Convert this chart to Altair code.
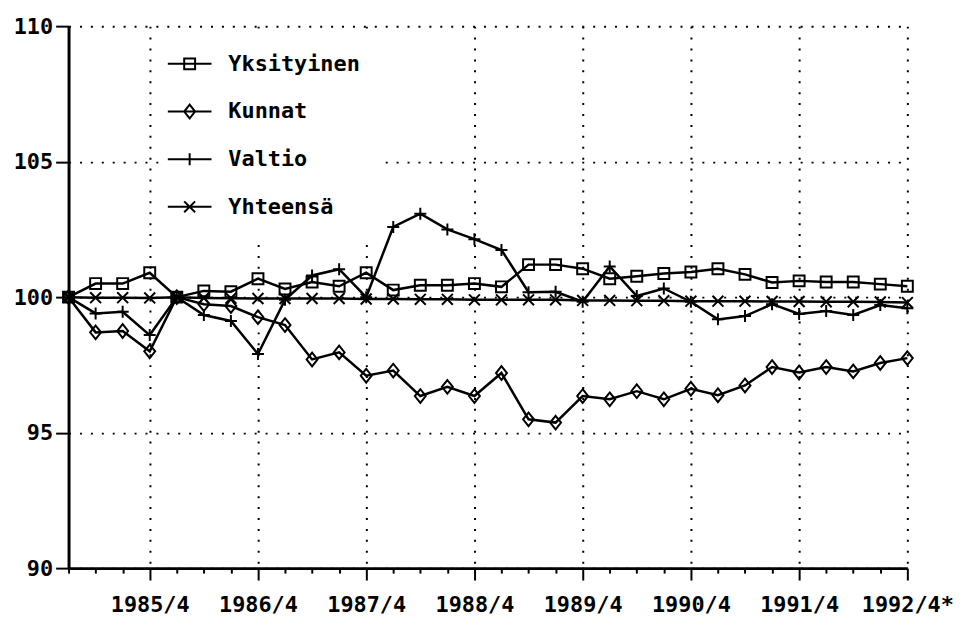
import altair as alt
import pandas as pd

# Quarterly index 1985/1 .. 1992/4 (32 quarters)
quarters = [f"{y}/{q}" for y in range(1985, 1993) for q in range(1, 5)]

series_names = ["Yksityinen", "Kunnat", "Valtio", "Yhteensä"]

yksityinen = [100, 100.5, 100.5, 100.9, 100, 100.23, 100.2, 100.68, 100.3, 100.56,
              100.4, 100.9, 100.26, 100.44, 100.44, 100.5, 100.38, 101.2, 101.2, 101.05,
              100.68, 100.77, 100.87, 100.93, 101.05, 100.84, 100.54, 100.6, 100.56, 100.56,
              100.48, 100.4]
kunnat = [100, 98.7, 98.75, 98.0, 100, 99.74, 99.67, 99.26, 98.97, 97.7,
          97.96, 97.1, 97.29, 96.35, 96.69, 96.35, 97.2, 95.49, 95.37, 96.35,
          96.23, 96.53, 96.23, 96.62, 96.38, 96.74, 97.42, 97.22, 97.42, 97.26,
          97.57, 97.75]
valtio = [100, 99.4, 99.46, 98.6, 100, 99.34, 99.12, 97.9, 99.9, 100.8,
          101.03, 100.0, 102.59, 103.08, 102.5, 102.14, 101.74, 100.18, 100.2, 99.83,
          101.13, 100.04, 100.32, 99.83, 99.18, 99.3, 99.74, 99.38, 99.49, 99.34,
          99.71, 99.59]
yhteensa = [100, 99.98, 99.98, 99.97, 100, 99.97, 99.96, 99.95, 99.95, 99.95,
            99.95, 99.93, 99.93, 99.92, 99.92, 99.9, 99.9, 99.9, 99.9, 99.88,
            99.88, 99.87, 99.87, 99.85, 99.85, 99.85, 99.84, 99.84, 99.83, 99.83,
            99.82, 99.8]

# tick labels at the fourth quarter of each year
tick_index = [3, 7, 11, 15, 19, 23, 27, 31]
tick_labels = ["1985/4", "1986/4", "1987/4", "1988/4", "1989/4", "1990/4", "1991/4", "1992/4*"]
y_ticks = [90, 95, 100, 105, 110]

rows = []
for name, vals in zip(series_names, [yksityinen, kunnat, valtio, yhteensa]):
    for i, v in enumerate(vals):
        rows.append({"series": name, "i": i, "quarter": quarters[i], "value": v})
df = pd.DataFrame(rows)

# marker shapes (custom paths)
markers = ["M-1,-1H1V1H-1Z",
           "M0,-1.25L1,0L0,1.25L-1,0Z",
           "M-1.1,0H1.1M0,-1.1V1.1",
           "M-1,-1L1,1M-1,1L1,-1"]
legend_paths = ["M-4,0H4" + m for m in markers]

label_expr = ""
for idx, lab in zip(tick_index, tick_labels):
    label_expr += f"datum.value == {idx} ? '{lab}' : "
label_expr += "''"

FONT = "DejaVu Sans Mono"
FS = 22
major_test = "datum.value % 4 == 3"

x_enc = alt.X(
    "i:Q",
    scale=alt.Scale(domain=[0, 31], nice=False, zero=False),
    axis=alt.Axis(
        values=list(range(32)),
        labelExpr=label_expr,
        labelOverlap=False,
        labelFlush=False,
        labelBound=False,
        labelFont=FONT,
        labelFontSize=FS,
        labelFontWeight="bold",
        labelColor="black",
        title=None,
        tickSize={"condition": {"test": major_test, "value": 12}, "value": 5},
        tickWidth=2,
        tickColor="black",
        domainColor="black",
        domainWidth=3,
        labelPadding=15,
        grid=True,
        gridColor="black",
        gridDash=[2, 9],
        gridWidth=2,
        gridOpacity={"condition": {"test": major_test, "value": 1}, "value": 0},
    ),
)
y_enc = alt.Y(
    "value:Q",
    scale=alt.Scale(domain=[90, 110], nice=False, zero=False),
    axis=alt.Axis(
        values=y_ticks,
        title=None,
        labelFont=FONT,
        labelFontSize=FS,
        labelFontWeight="bold",
        labelColor="black",
        tickSize=13,
        tickWidth=2,
        tickColor="black",
        domainColor="black",
        domainWidth=3,
        labelPadding=3,
        grid=True,
        gridColor="black",
        gridDash=[2, 9],
        gridWidth=2,
    ),
)

lines = alt.Chart(df).mark_line(color="black", strokeWidth=2.5).encode(
    x=x_enc, y=y_enc, detail="series:N", order="i:Q"
)

points = alt.Chart(df).mark_point(
    filled=False, size=121, strokeWidth=2, color="black", opacity=1
).encode(
    x=x_enc,
    y=y_enc,
    shape=alt.Shape(
        "series:N",
        scale=alt.Scale(domain=series_names, range=markers),
        legend=None,
    ),
)

legend_layer = alt.Chart(df).transform_filter("false").mark_point(
    filled=False, size=121, strokeWidth=2, color="black", opacity=1
).encode(
    x=x_enc,
    y=y_enc,
    shape=alt.Shape(
        "series:N",
        scale=alt.Scale(domain=series_names, range=legend_paths),
        legend=alt.Legend(
            title=None,
            orient="none",
            legendX=91,
            legendY=7,
            padding=20,
            fillColor="white",
            labelFont=FONT,
            labelFontSize=FS,
            labelFontWeight="bold",
            labelColor="black",
            labelOffset=28,
            rowPadding=26,
            symbolSize=121,
            symbolStrokeColor="black",
            symbolStrokeWidth=2,
            symbolFillColor="transparent",
            symbolOpacity=1,
        ),
    ),
)

chart = (
    alt.layer(lines, points, legend_layer)
    .resolve_scale(shape="independent")
    .resolve_legend(shape="independent")
    .properties(width=845, height=546, background="white",
                padding={"left": 5, "top": 5, "right": 0, "bottom": 5})
    .configure_view(stroke=None)
)

chart.save("out.html", embed_options={"renderer": "svg", "actions": False})
